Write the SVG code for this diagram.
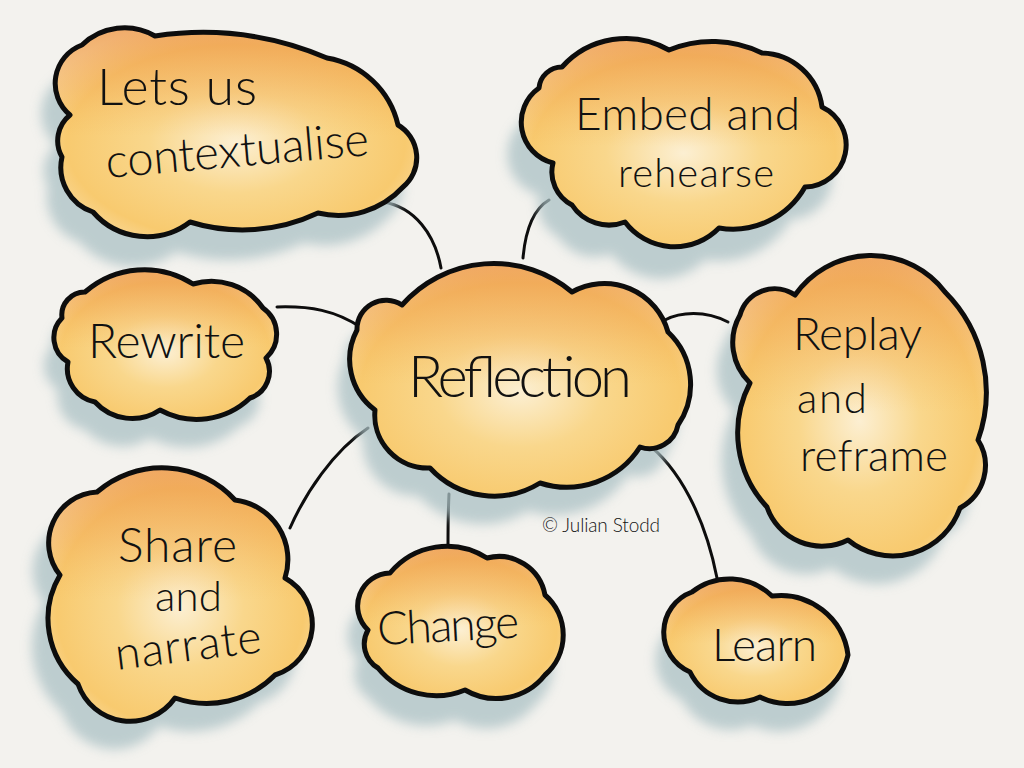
<svg xmlns="http://www.w3.org/2000/svg" width="1024" height="768" viewBox="0 0 1024 768">
<style>
.shadow{fill:#abc1c5;opacity:0.75;filter:url(#blur)}
.warm{fill:url(#warm)}
.tint{fill:url(#tint)}
.outline{fill:none;stroke:#0d0d0d;stroke-width:5;stroke-linejoin:round;stroke-linecap:round}
.conn{fill:none;stroke:#0d0d0d;stroke-width:3;stroke-linecap:round}
.lbl{font-family:"Lato","Liberation Sans",Arial,sans-serif;font-weight:300;fill:#111}
</style>
<defs>
<filter id="blur" x="-20%" y="-20%" width="140%" height="140%"><feGaussianBlur stdDeviation="6"/></filter>
<radialGradient id="warm" cx="50%" cy="55%" r="60%">
<stop offset="0%" stop-color="#fcefd2"/>
<stop offset="40%" stop-color="#f9d78c"/>
<stop offset="78%" stop-color="#f8ca6f"/>
<stop offset="100%" stop-color="#fadda6"/>
</radialGradient>
<linearGradient id="tint" x1="0" y1="0" x2="0" y2="1">
<stop offset="0%" stop-color="#ea8c45" stop-opacity="0.62"/>
<stop offset="28%" stop-color="#ee9a4c" stop-opacity="0.3"/>
<stop offset="52%" stop-color="#f2b055" stop-opacity="0"/>
</linearGradient>
<path id="c1" d="M82,45 A61,61 0 0 1 155,36 A318,318 0 0 1 327,58 A88,88 0 0 1 398,125 A38,38 0 0 1 403,187 A88,88 0 0 1 318,213 A177,177 0 0 1 190,222 A71,71 0 0 1 93,212 A47,47 0 0 1 62,157 A33,33 0 0 1 70,115 A41,41 0 0 1 82,45 Z"/>
<path id="c2" d="M562,67 A86,86 0 0 1 669,50 A113,113 0 0 1 762,53 A62,62 0 0 1 822,107 A42,42 0 0 1 805,187 A83,83 0 0 1 719,228 A62,62 0 0 1 625,222 A44,44 0 0 1 572,205 A37,37 0 0 1 553,163 A42,42 0 0 1 539,88 A23,23 0 0 1 562,67 Z"/>
<path id="c3" d="M85,292 A90,90 0 0 1 193,284 A63,63 0 0 1 263,308 A32,32 0 0 1 266,358 A28,28 0 0 1 250,398 A77,77 0 0 1 160,410 A50,50 0 0 1 95,402 A34,34 0 0 1 68,362 A28,28 0 0 1 62,318 A23,23 0 0 1 85,292 Z"/>
<path id="c4" d="M402,305 A122,122 0 0 1 572,292 A66,66 0 0 1 668,332 A72,72 0 0 1 678,425 A29,29 0 0 1 640,447 A87,87 0 0 1 540,483 A87,87 0 0 1 430,468 A53,53 0 0 1 375,410 A63,63 0 0 1 357,330 A29,29 0 0 1 402,305 Z"/>
<path id="c5" d="M795,295 A93,93 0 0 1 945,292 A142,142 0 0 1 978,440 A48,48 0 0 1 960,508 A71,71 0 0 1 848,540 A58,58 0 0 1 767,507 A108,108 0 0 1 750,383 A56,56 0 0 1 740,315 A36,36 0 0 1 795,295 Z"/>
<path id="c6" d="M97,492 A99,99 0 0 1 235,500 A60,60 0 0 1 285,578 A53,53 0 0 1 275,675 A96,96 0 0 1 175,698 A55,55 0 0 1 78,684 A86,86 0 0 1 60,575 A51,51 0 0 1 97,492 Z"/>
<path id="c7" d="M390,573 A74,74 0 0 1 487,558 A47,47 0 0 1 545,595 A53,53 0 0 1 545,675 A62,62 0 0 1 465,690 A75,75 0 0 1 378,668 A28,28 0 0 1 368,630 A33,33 0 0 1 390,573 Z"/>
<path id="c8" d="M692,592 A61,61 0 0 1 772,596 A68,68 0 0 1 848,655 A62,62 0 0 1 760,697 A53,53 0 0 1 690,672 A43,43 0 0 1 692,592 Z"/>
</defs>
<rect width="1024" height="768" fill="#f3f2ee"/>
<g id="connectors">
<path class="conn" d="M383,202 C415,207 435,235 441,268"/>
<path class="conn" d="M549,200 C532,210 525,235 523,258"/>
<path class="conn" d="M277,307 C310,306 335,310 362,328"/>
<path class="conn" d="M665,320 C680,312 705,310 728,322"/>
<path class="conn" d="M368,428 C333,451 305,494 290,528"/>
<path class="conn" d="M449,494 C448,515 448,530 448,546"/>
<path class="conn" stroke-width="3.5" d="M645,442 C679,467 705,517 717,578"/>
</g>
<g id="node-contextualise">
<use href="#c1" class="shadow" transform="translate(-14,30)"/>
<use href="#c1" class="warm"/><use href="#c1" class="tint"/><use href="#c1" class="outline"/>
<text class="lbl" x="97" y="105" font-size="52" textLength="160" lengthAdjust="spacing">Lets us</text>
<text class="lbl" x="107" y="178" font-size="47" textLength="264" lengthAdjust="spacing" transform="rotate(-5 107 178)">contextualise</text>
</g>
<g id="node-embed">
<use href="#c2" class="shadow" transform="translate(-14,32)"/>
<use href="#c2" class="warm"/><use href="#c2" class="tint"/><use href="#c2" class="outline"/>
<text class="lbl" x="575" y="130" font-size="46" textLength="225" lengthAdjust="spacing">Embed and</text>
<text class="lbl" x="618" y="187" font-size="40" textLength="156" lengthAdjust="spacing">rehearse</text>
</g>
<g id="node-rewrite">
<use href="#c3" class="shadow" transform="translate(-10,28)"/>
<use href="#c3" class="warm"/><use href="#c3" class="tint"/><use href="#c3" class="outline"/>
<text class="lbl" x="88" y="358" font-size="48" textLength="157" lengthAdjust="spacing">Rewrite</text>
</g>
<g id="node-reflection">
<use href="#c4" class="shadow" transform="translate(-12,28)"/>
<use href="#c4" class="warm"/><use href="#c4" class="tint"/><use href="#c4" class="outline"/>
<text class="lbl" x="408" y="397" font-size="58" textLength="224" lengthAdjust="spacing">Reflection</text>
</g>
<g id="node-replay">
<use href="#c5" class="shadow" transform="translate(-16,28)"/>
<use href="#c5" class="warm"/><use href="#c5" class="tint"/><use href="#c5" class="outline"/>
<text class="lbl" x="793" y="350" font-size="46" textLength="129" lengthAdjust="spacing">Replay</text>
<text class="lbl" x="797" y="413" font-size="42" textLength="70" lengthAdjust="spacing">and</text>
<text class="lbl" x="800" y="471" font-size="44" textLength="148" lengthAdjust="spacing">reframe</text>
</g>
<g id="node-share">
<use href="#c6" class="shadow" transform="translate(-16,28)"/>
<use href="#c6" class="warm"/><use href="#c6" class="tint"/><use href="#c6" class="outline"/>
<text class="lbl" x="118" y="562" font-size="48" textLength="119" lengthAdjust="spacing">Share</text>
<text class="lbl" x="155" y="611" font-size="42" textLength="67" lengthAdjust="spacing">and</text>
<text class="lbl" x="117" y="670" font-size="46" textLength="147" lengthAdjust="spacing" transform="rotate(-7 117 670)">narrate</text>
</g>
<g id="node-change">
<use href="#c7" class="shadow" transform="translate(-10,30)"/>
<use href="#c7" class="warm"/><use href="#c7" class="tint"/><use href="#c7" class="outline"/>
<text class="lbl" x="378" y="645" font-size="46" textLength="142" lengthAdjust="spacing" transform="rotate(-3 378 645)">Change</text>
</g>
<g id="node-learn">
<use href="#c8" class="shadow" transform="translate(-8,28)"/>
<use href="#c8" class="warm"/><use href="#c8" class="tint"/><use href="#c8" class="outline"/>
<text class="lbl" x="712" y="661" font-size="46" textLength="105" lengthAdjust="spacing">Learn</text>
</g>
<text class="lbl" x="542" y="532" font-size="19" textLength="118" lengthAdjust="spacing">© Julian Stodd</text>
</svg>
